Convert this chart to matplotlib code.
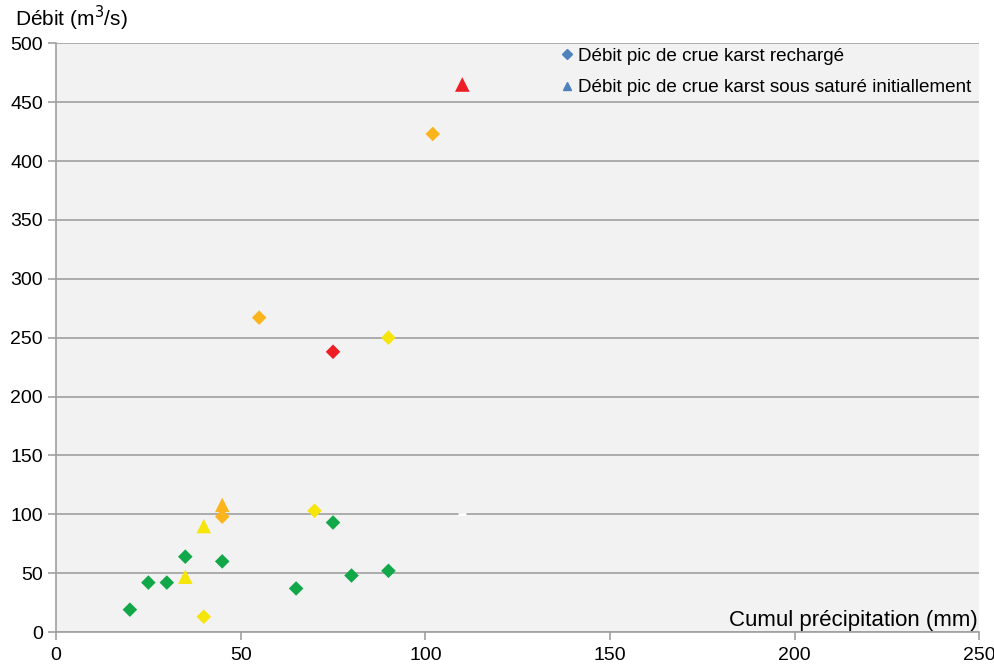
import matplotlib.pyplot as plt
from matplotlib.lines import Line2D

plt.rcParams['font.family'] = ['Liberation Sans', 'DejaVu Sans']

# Débit pic de crue karst rechargé (losanges)
recharge_x = [20, 25, 30, 35, 45, 65, 75, 80, 90, 40, 70, 90, 45, 55, 102, 75]
recharge_y = [19, 42, 42, 64, 60, 37, 93, 48, 52, 13, 103, 250, 98, 267, 423, 238]
recharge_c = ['#12A84A'] * 9 + ['#F5E50A'] * 3 + ['#FBB41C'] * 3 + ['#EE1C24']

# Débit pic de crue karst sous saturé initialement (triangles)
sature_x = [35, 40, 45, 110]
sature_y = [47, 90, 108, 465]
sature_c = ['#F5E50A', '#F5E50A', '#FBB41C', '#EE1C24']

fig = plt.figure(figsize=(9.95, 6.66), dpi=100)
ax = fig.add_axes([0.0563, 0.051, 0.928, 0.884])
ax.set_facecolor('#F2F2F2')

ax.scatter(recharge_x, recharge_y, marker='D', s=55, c=recharge_c, linewidths=0, zorder=3)
ax.scatter(sature_x, sature_y, marker='^', s=110, c=sature_c, linewidths=0, zorder=3)
# petit trait blanc sur la grille
ax.scatter([110], [100], marker='_', s=30, c='white', linewidths=2, zorder=3)

ax.set_xlim(0, 250)
ax.set_ylim(0, 500)
ax.set_xticks(range(0, 251, 50))
ax.set_yticks(range(0, 501, 50))
ax.yaxis.grid(True, color='#A0A0A0', linewidth=1.2)
ax.set_axisbelow(True)
for s in ['top', 'right']:
    ax.spines[s].set_visible(False)
for s in ['left', 'bottom']:
    ax.spines[s].set_color('#A0A0A0')
    ax.spines[s].set_linewidth(1.2)
ax.tick_params(axis='both', colors='#A0A0A0', labelcolor='black', labelsize=14, length=6, width=1.2)
ax.tick_params(axis='x', pad=5)

fig.text(0.015, 0.972, 'Débit (m$^3$/s)', fontsize=15, va='center', ha='left')
ax.text(249.5, 10, 'Cumul précipitation (mm)', fontsize=16, ha='right', va='center')

handles = [
    Line2D([], [], marker='D', color='#4F81BD', linestyle='none', markersize=5),
    Line2D([], [], marker='^', color='#4F81BD', linestyle='none', markersize=6),
]
ax.legend(handles, ['Débit pic de crue karst rechargé',
                    'Débit pic de crue karst sous saturé initiallement'],
          loc='upper right', bbox_to_anchor=(1.003, 1.012), frameon=False, fontsize=13.6,
          handletextpad=0.05, handlelength=1.0, labelspacing=0.75, borderaxespad=0.2)

fig.savefig('out.png')
